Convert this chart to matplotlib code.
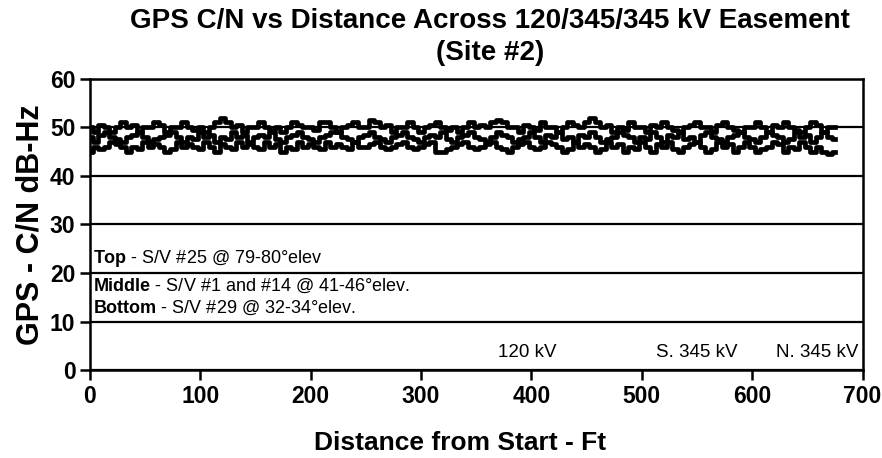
import numpy as np
import matplotlib
matplotlib.use("Agg")
from matplotlib import pyplot as plt

# C/N readings every 5 ft
step_ft = 5
top = [50, 49, 50.5, 50, 49, 50, 51, 50, 50.5, 49,
       50, 50, 51, 50.5, 49, 50, 50, 51, 50, 49.5,
       50, 49, 50, 51, 52, 51, 50, 50.5, 49, 50,
       50, 51, 50, 49.5, 50, 49, 50, 51, 50.5, 50,
       50, 49.5, 51, 51, 50, 49, 50, 50.5, 51, 50,
       50, 51.5, 51, 50, 50.5, 49, 50, 50, 51, 50,
       49, 50, 50.5, 51, 50, 49.5, 50, 49, 50, 51,
       50, 50.5, 50, 51, 51.5, 51, 50, 50, 49, 50.5,
       50, 49.5, 51, 50, 50, 49, 50, 51, 50.5, 50,
       51, 52, 51, 50, 50.5, 49, 50, 49.5, 51, 50,
       50, 49, 50.5, 50, 51, 50, 49.5, 49, 50, 50.5,
       51, 50, 50, 49, 50.5, 51, 50, 49.5, 49, 50,
       50, 51, 50, 49, 50.5, 50, 51, 50, 49.5, 49,
       50, 51, 50.5, 49, 50, 50]
middle = [48, 47, 48.5, 49, 48, 47.5, 47, 48, 48.5, 49,
          48, 47, 47.5, 48, 48.5, 49, 48, 47, 48, 47.5,
          49, 48, 48.5, 47, 48, 47.5, 49, 48, 48.5, 47,
          48, 48.5, 48, 49, 47.5, 47, 48, 48.5, 49, 48,
          47.5, 47, 48, 48.5, 49, 49, 48, 47.5, 47, 48,
          48.5, 49, 48, 47.5, 47, 48, 48.5, 49, 48, 47.5,
          47, 48, 48.5, 48, 49, 47.5, 47, 48, 48.5, 49,
          48, 47.5, 47, 48, 49, 48.5, 48, 47, 47.5, 48,
          49, 48, 47, 48.5, 48, 49, 47.5, 48, 47, 48.5,
          48, 49, 48, 47, 47.5, 48, 49, 48.5, 48, 47,
          48, 47.5, 49, 48, 47, 48.5, 48, 49, 47.5, 48,
          47, 48.5, 49, 48, 47.5, 47, 48, 48.5, 49, 48,
          47.5, 47, 48, 49, 48.5, 48, 47, 47.5, 49, 48,
          48.5, 47, 48, 49, 48, 47.5]
bottom = [45, 46, 45.5, 46, 47, 46.5, 46, 45, 46, 45.5,
          47, 46, 46.5, 46, 45, 45.5, 47, 46, 46.5, 46,
          45.5, 47, 46, 45, 46.5, 46, 45.5, 47, 46, 46.5,
          46, 45.5, 47, 46, 46.5, 45, 46, 45.5, 47, 46,
          46.5, 46, 45.5, 47, 46, 46.5, 46, 45.5, 47, 46,
          46, 46.5, 47, 46, 45.5, 46, 46.5, 47, 46, 45.5,
          46, 46.5, 47, 45, 45, 45.5, 46, 46.5, 47, 46,
          45.5, 46, 46.5, 47, 46, 45.5, 45, 46, 46.5, 47,
          46, 45.5, 46, 47, 46.5, 46, 45, 45.5, 47, 46,
          46.5, 46, 45, 45.5, 47, 46, 46.5, 45, 46, 45.5,
          47, 46, 45, 46.5, 46, 47, 45.5, 45, 46, 46.5,
          47, 46, 45, 45.5, 47, 46, 46.5, 45, 46, 47,
          46, 45, 45.5, 46, 47, 46.5, 45, 46, 45.5, 47,
          46, 45, 46, 45, 44.5, 45]

labels = [r"$\mathbf{Top}$ - S/V #25 @ 79-80°elev",
          r"$\mathbf{Middle}$ - S/V #1 and #14 @ 41-46°elev.",
          r"$\mathbf{Bottom}$ - S/V #29 @ 32-34°elev."]
lines_kv = ["120 kV", "S. 345 kV", "N. 345 kV"]
lines_kv_x = [396, 550, 659]

plt.rcParams['font.family'] = ['Liberation Sans', 'DejaVu Sans']
plt.rcParams['mathtext.fontset'] = 'custom'
plt.rcParams['mathtext.rm'] = 'Liberation Sans'
plt.rcParams['mathtext.bf'] = 'Liberation Sans:bold'

dist = np.arange(len(top)) * step_ft

fig = plt.figure(figsize=(8.82, 4.58), dpi=100)
ax = fig.add_axes([0.102, 0.192, 0.876, 0.636])

for s in (top, middle, bottom):
    ax.plot(dist, s, color='black', lw=3.4, drawstyle='steps-mid', zorder=3)

ax.set_xlim(0, 700)
ax.set_ylim(0, 60)
ax.set_xticks(np.arange(0, 701, 100))
ax.set_yticks(np.arange(0, 61, 10))
ax.yaxis.grid(True, color='black', lw=1.6)
ax.set_axisbelow(True)
for sp in ax.spines.values():
    sp.set_linewidth(1.8)
ax.tick_params(direction='out', length=7, width=1.8, labelsize=16.5)
for t in ax.get_xticklabels() + ax.get_yticklabels():
    t.set_fontweight('bold')

fig.text(0.556, 0.982, "GPS C/N vs Distance Across 120/345/345 kV Easement\n(Site #2)",
         fontsize=20, fontweight='bold', ha='center', va='top', linespacing=1.3)
ax.set_xlabel("Distance from Start - Ft", fontsize=19, fontweight='bold')
ax.xaxis.set_label_coords(0.479, -0.21)
ax.set_ylabel("GPS - C/N dB-Hz", fontsize=22, fontweight='bold', labelpad=3)

for lab, yy in zip(labels, [23.0, 17.4, 12.9]):
    ax.text(3, yy, lab, fontsize=13, va='center', ha='left')
for lab, xx in zip(lines_kv, lines_kv_x):
    ax.text(xx, 3.7, lab, fontsize=13.5, va='center', ha='center')

fig.savefig("out.png", dpi=100)
